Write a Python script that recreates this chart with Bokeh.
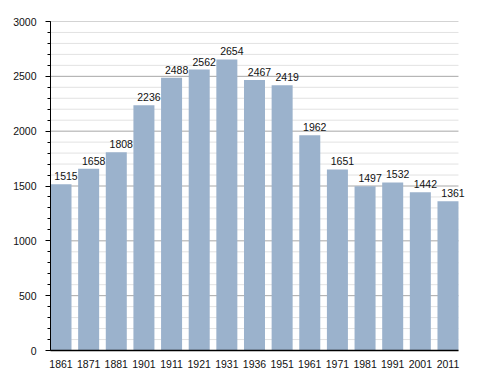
from bokeh.plotting import figure
from bokeh.models import ColumnDataSource, FixedTicker, Range1d, LinearAxis, LabelSet
from bokeh.embed import file_html
from bokeh.resources import INLINE
from bokeh.core.properties import value

years = ["1861", "1871", "1881", "1901", "1911", "1921", "1931", "1936",
         "1951", "1961", "1971", "1981", "1991", "2001", "2011"]
population = [1515, 1658, 1808, 2236, 2488, 2562, 2654, 2467,
              2419, 1962, 1651, 1497, 1532, 1442, 1361]
y_ticks = [0, 500, 1000, 1500, 2000, 2500, 3000]
minor_ticks = list(range(0, 3001, 100))

xs = list(range(len(years)))
src = ColumnDataSource(dict(x=xs, y=population,
                            label=[str(v) for v in population]))

half = 0.38
x_lo, x_hi = -half, len(years) - 1 + half

p = figure(width=480, height=370, output_backend="svg", toolbar_location=None,
           x_range=Range1d(x_lo, x_hi + 0.29),
           y_range=Range1d(0, 3000),
           min_border_left=50, min_border_right=14, min_border_top=21,
           min_border_bottom=17, x_axis_location=None)
p.outline_line_color = None
p.background_fill_color = "white"
p.xgrid.grid_line_color = None
p.ygrid.grid_line_color = None

# grid lines, bounded to the bar area
minor_only = [t for t in minor_ticks if t not in y_ticks]
p.segment(x0=[x_lo] * len(minor_only), x1=[x_hi] * len(minor_only),
          y0=minor_only, y1=minor_only, line_color="#e2e2e2", line_width=1)
p.segment(x0=[x_lo] * len(y_ticks), x1=[x_hi] * len(y_ticks),
          y0=y_ticks, y1=y_ticks, line_color="#a8a8a8", line_width=1)

p.vbar(x="x", top="y", width=2 * half, bottom=0, source=src,
       fill_color="#9bb2cc", line_color=None)

labels = LabelSet(x="x", y="y", text="label", source=src, x_offset=5, y_offset=4,
                  text_align="center", text_baseline="bottom",
                  text_font=value("Liberation Sans"), text_font_size="10.5px",
                  text_color="#111111")
p.add_layout(labels)

# y axis
yax = p.yaxis[0]
yax.ticker = FixedTicker(ticks=y_ticks, minor_ticks=minor_ticks)
yax.axis_line_color = "black"
yax.major_tick_line_color = "black"
yax.minor_tick_line_color = "black"
yax.major_tick_out = 5
yax.major_tick_in = 0
yax.minor_tick_out = 3
yax.minor_tick_in = 0
yax.major_label_standoff = 9
yax.major_label_text_font = "Liberation Sans"
yax.major_label_text_font_size = "10.5px"
yax.major_label_text_color = "#111111"

# x axis with year labels
xax = LinearAxis(ticker=FixedTicker(ticks=xs),
                 major_label_overrides={i: y for i, y in enumerate(years)},
                 bounds=(x_lo, x_hi))
xax.axis_line_color = "black"
xax.axis_line_width = 1.5
xax.major_tick_line_color = None
xax.minor_tick_line_color = None
xax.major_label_standoff = 3
xax.major_label_text_font = "Liberation Sans"
xax.major_label_text_font_size = "10.5px"
xax.major_label_text_color = "#111111"
p.add_layout(xax, "below")

open("out.html", "w").write(file_html(p, INLINE))
